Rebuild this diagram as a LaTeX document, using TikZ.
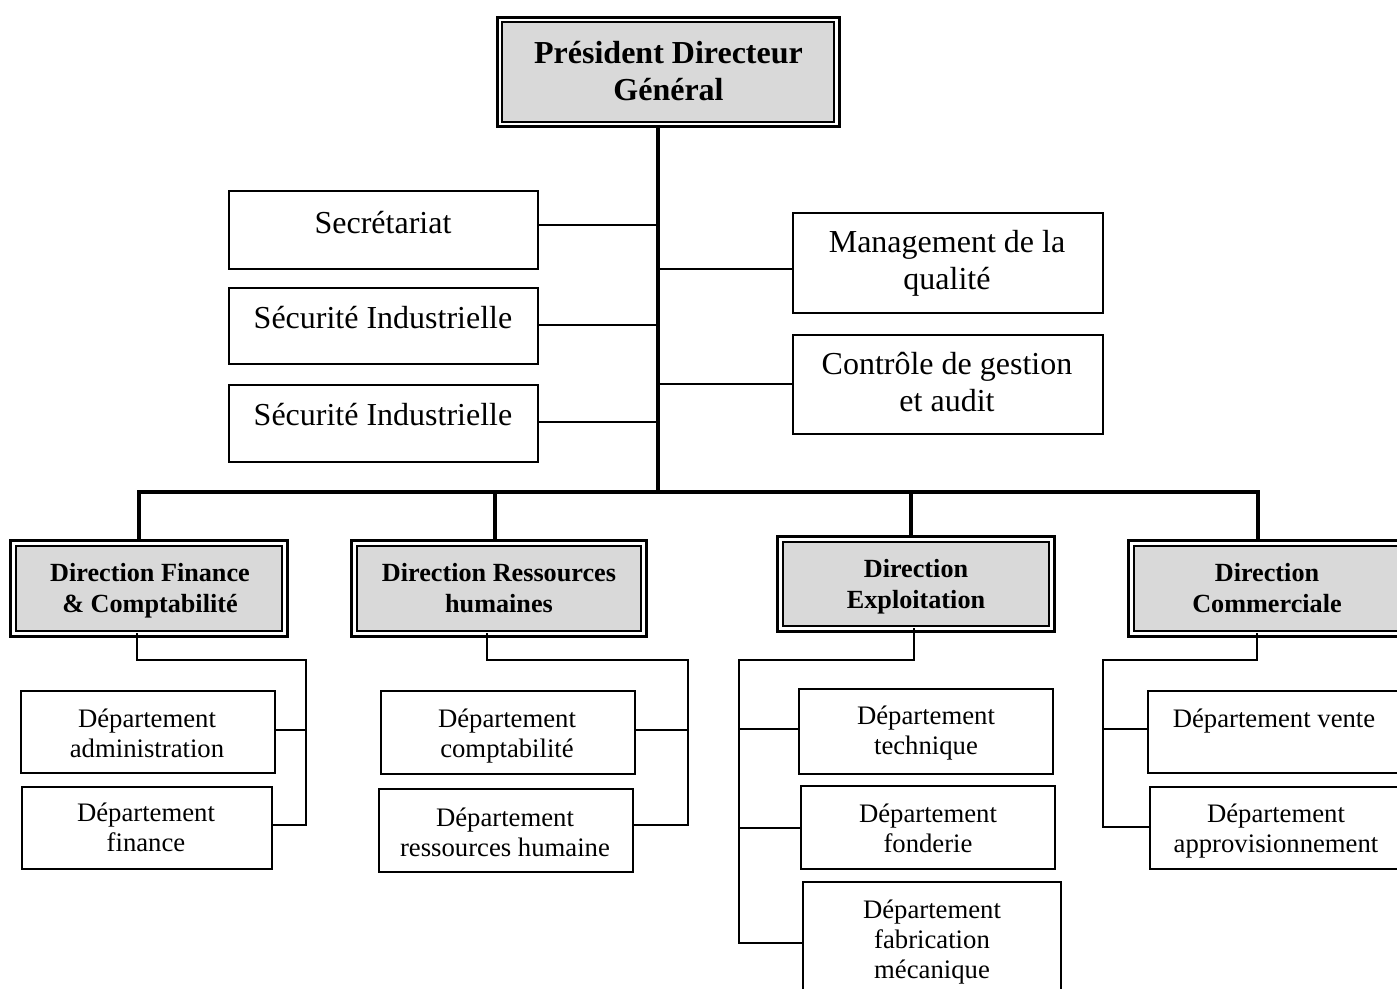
\documentclass[tikz,border=0pt]{standalone}
\usepackage{fontspec}
\setmainfont{Liberation Serif}
\definecolor{dirgray}{RGB}{217,217,217}
\begin{document}
\begin{tikzpicture}[x=1pt,y=-1pt,
  box/.style={draw, line width=2pt, inner sep=0pt},
  dirbox/.style={draw, line width=3pt, inner sep=0pt,
    path picture={\draw[line width=2pt, fill=dirgray]
      ([shift={(#1,-#1)}]path picture bounding box.north west) rectangle
      ([shift={(-#1,#1)}]path picture bounding box.south east);}},
  dirbox/.default=5.5pt,
  txt/.style={inner sep=0pt, align=center,
    execute at begin node=\strut, execute at end node=\strut},
  bigtxt/.style={txt, font=\fontsize{32}{37.5}\selectfont},
  toptxt/.style={txt, font=\fontsize{32}{37.5}\selectfont\bfseries},
  dirtxt/.style={txt, font=\fontsize{26.2}{31}\selectfont\bfseries},
  deptxt/.style={txt, font=\fontsize{26.7}{30}\selectfont},
  link/.style={line width=2pt, line join=miter},
  trunk/.style={line width=3.8pt, line join=miter}]

\useasboundingbox (0,0) rectangle (1397,988);
\clip (0,0) rectangle (1397,988);
\fill[white] (0,0) rectangle (1397,988);

% ---- top management
\node[dirbox=5pt, minimum width=341.7, minimum height=109.4] (pdg) at (668.15,72) {};
\node[toptxt] (t-pdg) at (668.5,76.6) {Président Directeur\\Général};

% ---- staff units
\node[box, minimum width=309, minimum height=77.7] (sec) at (383.2,229.9) {};
\node[box, minimum width=309, minimum height=76] (si1) at (383.2,325.7) {};
\node[box, minimum width=309, minimum height=77] (si2) at (383.2,423.5) {};
\node[box, minimum width=310, minimum height=99.4] (mq) at (947.7,263) {};
\node[box, minimum width=310, minimum height=99.4] (cg) at (947.7,384.5) {};
\node[bigtxt] (t-sec) at (383,226) {Secrétariat};
\node[bigtxt] (t-si1) at (383,320.5) {Sécurité Industrielle};
\node[bigtxt] (t-si2) at (383,417.5) {Sécurité Industrielle};
\node[bigtxt] (t-mq) at (947,265.5) {Management de la\\qualité};
\node[bigtxt] (t-cg) at (947,387.5) {Contrôle de gestion\\et audit};

% ---- directions
\node[dirbox, minimum width=276.2, minimum height=96] (dfc) at (148.9,588.8) {};
\node[dirbox, minimum width=295, minimum height=96] (drh) at (499,588.8) {};
\node[dirbox, minimum width=276.5, minimum height=95] (dex) at (915.75,584) {};
\node[dirbox, minimum width=277.7, minimum height=96] (dco) at (1267.1,588.8) {};
\node[dirtxt] (t-dfc) at (150,592.8) {Direction Finance\\\& Comptabilité};
\node[dirtxt] (t-drh) at (499,592.8) {Direction Ressources\\humaines};
\node[dirtxt] (t-dex) at (916,588.3) {Direction\\Exploitation};
\node[dirtxt] (t-dco) at (1267,592.8) {Direction\\Commerciale};

% ---- departments
\node[box, minimum width=253.7, minimum height=82] (adm) at (147.8,732) {};
\node[box, minimum width=250.3, minimum height=82.3] (fin) at (146.8,828.2) {};
\node[box, minimum width=254.3, minimum height=82.7] (cpt) at (508.2,732.3) {};
\node[box, minimum width=254, minimum height=82.7] (rhu) at (506.3,830.7) {};
\node[box, minimum width=253.4, minimum height=84.4] (tec) at (926,731.5) {};
\node[box, minimum width=254, minimum height=82.7] (fon) at (928,827.3) {};
\node[box, minimum width=258.3, minimum height=118.3] (fab) at (931.8,940.8) {};
\node[box, minimum width=252.3, minimum height=82.3] (ven) at (1273.9,732.2) {};
\node[box, minimum width=252, minimum height=82.6] (app) at (1276,828) {};
\node[deptxt] (t-adm) at (147,737.5) {Département\\administration};
\node[deptxt] (t-fin) at (146,832) {Département\\finance};
\node[deptxt] (t-cpt) at (507,737.5) {Département\\comptabilité};
\node[deptxt] (t-rhu) at (505,836.5) {Département\\ressources humaine};
\node[deptxt] (t-tec) at (926,734.5) {Département\\technique};
\node[deptxt] (t-fon) at (928,832.5) {Département\\fonderie};
\node[deptxt] (t-fab) at (932,943.5) {Département\\fabrication\\mécanique};
\node[deptxt] (t-ven) at (1274,721.5) {Département vente};
\node[deptxt] (t-app) at (1276,832.5) {Département\\approvisionnement};

% ---- main trunk and distribution bar
\coordinate (hub) at (658.3,491.7);
\coordinate (barL) at (139,491.7);
\coordinate (barR) at (1258.3,491.7);
\coordinate (dropH) at (495,491.7);
\coordinate (dropE) at (910.7,491.7);
\draw[trunk] (hub |- pdg.south) -- (hub);
\draw[trunk] ([yshift=-1.5pt]barL |- dfc.north) -- (barL) -- (barR) -- ([yshift=-1.5pt]barR |- dco.north);
\draw[trunk] (dropH) -- ([yshift=-1.5pt]dropH |- drh.north);
\draw[trunk] (dropE) -- ([yshift=-1.5pt]dropE |- dex.north);

% ---- staff branches
\coordinate (s1) at (658.3,225);
\coordinate (s2) at (658.3,325);
\coordinate (s3) at (658.3,422.3);
\coordinate (m1) at (658.3,269.3);
\coordinate (m2) at (658.3,383.7);
\draw[link] (s1) -- (s1 -| sec.east);
\draw[link] (s2) -- (s2 -| si1.east);
\draw[link] (s3) -- (s3 -| si2.east);
\draw[link] (m1) -- (m1 -| mq.west);
\draw[link] (m2) -- (m2 -| cg.west);

% ---- finance departments
\coordinate (fA) at (137,660);
\coordinate (fB) at (306,660);
\coordinate (fC) at (306,729.7);
\coordinate (fD) at (306,825.3);
\draw[link] ([yshift=5pt]fA |- dfc.south) -- (fA) -- (fB) -- (fD) -- (fD -| fin.east);
\draw[link] (fC) -- (fC -| adm.east);

% ---- human resources departments
\coordinate (rA) at (487,660);
\coordinate (rB) at (687.7,660);
\coordinate (rC) at (687.7,730);
\coordinate (rD) at (687.7,825.3);
\draw[link] ([yshift=5pt]rA |- drh.south) -- (rA) -- (rB) -- (rD) -- (rD -| rhu.east);
\draw[link] (rC) -- (rC -| cpt.east);

% ---- operations departments
\coordinate (eA) at (914.3,660);
\coordinate (eB) at (739.3,660);
\coordinate (eC) at (739.3,729.3);
\coordinate (eD) at (739.3,827.7);
\coordinate (eE) at (739.3,942.7);
\draw[link] ([yshift=5pt]eA |- dex.south) -- (eA) -- (eB) -- (eE) -- (eE -| fab.west);
\draw[link] (eC) -- (eC -| tec.west);
\draw[link] (eD) -- (eD -| fon.west);

% ---- commercial departments
\coordinate (cA) at (1256.7,660);
\coordinate (cB) at (1102.7,660);
\coordinate (cC) at (1102.7,729.3);
\coordinate (cD) at (1102.7,826.7);
\draw[link] ([yshift=5pt]cA |- dco.south) -- (cA) -- (cB) -- (cD) -- (cD -| app.west);
\draw[link] (cC) -- (cC -| ven.west);
\end{tikzpicture}
\end{document}
